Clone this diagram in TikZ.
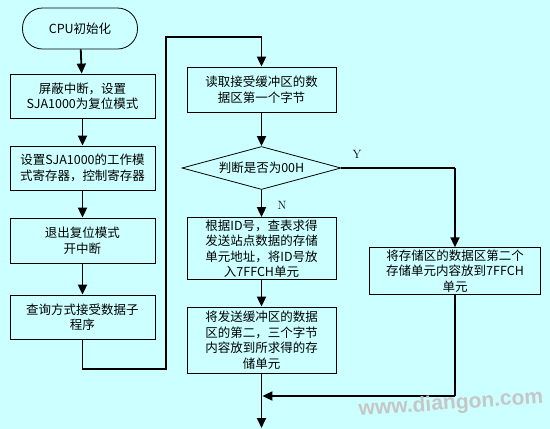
\documentclass[tikz,border=0pt]{standalone}
\usepackage{fontspec}
\newfontfamily\cjk{Noto Sans CJK SC}
\newfontfamily\wmfont{Liberation Sans}
\usepackage{tikz}
\usetikzlibrary{arrows.meta,shapes.geometric}
\definecolor{bgcyan}{RGB}{204,255,255}
\tikzstyle{procbox}=[draw,line width=0.8pt,fill=bgcyan,minimum width=145pt,minimum height=44pt,align=center,inner sep=2pt,font=\cjk\fontsize{12.5}{15.5}\selectfont]
\tikzstyle{decbox}=[procbox,shape=diamond,aspect=3.7,inner sep=1pt,minimum width=159pt,minimum height=43pt]
\tikzstyle{flowline}=[line width=1.8pt,-{Triangle[width=9pt,length=10pt]}]
\tikzstyle{plainline}=[line width=1.1pt]
\tikzstyle{yn}=[font=\fontsize{12}{12}\selectfont,inner sep=0pt]

\begin{document}
\begin{tikzpicture}[x=1pt,y=-1pt]
	\fill[bgcyan] (0,0) rectangle (550,429);
	\useasboundingbox (0,0) rectangle (550,429);
	\node[procbox,rounded corners=20pt,minimum width=115pt,minimum height=41pt] (start) at (80,28.5) {CPU初始化};
	\node[procbox] (b1) at (82.5,96) {屏蔽中断，设置\\SJA1000为复位模式};
	\node[procbox] (b2) at (82.5,168) {设置SJA1000的工作模\\式寄存器，控制寄存器};
	\node[procbox,minimum height=45pt] (b3) at (82.5,240.5) {退出复位模式\\开中断};
	\node[procbox] (b4) at (82.5,317) {查询方式接受数据子\\程序};
	\node[procbox,minimum width=149pt,minimum height=45pt] (b5) at (261.5,89.5) {读取接受缓冲区的数\\据区第一个字节};
	\node[decbox] (dia) at (261.5,168) {判断是否为00H};
	\node[procbox,minimum width=149pt,minimum height=61pt] (b6) at (261.5,248.5) {根据ID号，查表求得\\发送站点数据的存储\\单元地址，将ID号放\\入7FFCH单元};
	\node[procbox,minimum width=149pt,minimum height=66pt] (b7) at (261.5,340) {将发送缓冲区的数据\\区的第二，三个字节\\内容放到所求得的存\\储单元};
	\node[procbox,minimum width=171pt,minimum height=44pt] (b8) at (455,271) {将存储区的数据区第二个\\存储单元内容放到7FFCH\\单元};
	\node[yn] (ylab) at (357,154) {Y};
	\node[yn] (nlab) at (282,205) {N};
	\coordinate (loopa) at (82.5,369);
	\coordinate (loopb) at (166,369);
	\coordinate (loopc) at (166,37);
	\coordinate (loopd) at (261.5,37);
	\coordinate (ycorner) at (455,168);
	\coordinate (mcorner) at (455,396);
	\coordinate (mjoin) at (261.5,396);
	\coordinate (fin) at (261.5,428);
	\draw[flowline] (start) -- (b1);
	\draw[flowline] (b1) -- (b2);
	\draw[flowline] (b2) -- (b3);
	\draw[flowline] (b3) -- (b4);
	\draw[plainline] (b4.south) -- (loopa) -- (loopb) -- (loopc) -- (loopd);
	\draw[flowline] (loopd) -- (b5.north);
	\draw[flowline] (b5) -- (dia);
	\draw[flowline] (dia.south) -- (b6.north);
	\draw[flowline] (b6) -- (b7);
	\draw[plainline] (dia.east) -- (ycorner);
	\draw[flowline] (ycorner) -- (b8.north);
	\draw[plainline] (b8.south) -- (mcorner);
	\draw[flowline,shorten >=0.9pt] (mcorner) -- (mjoin);
	\draw[flowline] (b7.south) -- (fin);
	\node[font=\wmfont\bfseries\fontsize{21}{21}\selectfont,text=gray!45,rotate=4,inner sep=0pt] (wmark) at (451,404) {www.diangon.com};
\end{tikzpicture}
\end{document}
